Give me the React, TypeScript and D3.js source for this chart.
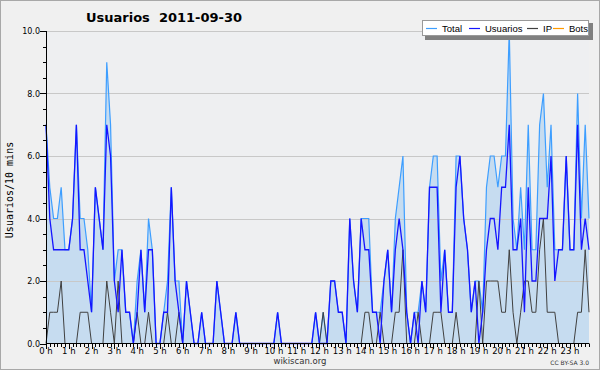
import React from "react";
import * as d3 from "d3";

const usuarios = [
  7,4,3,3,3,3, 3,4,7,3,3,2, 1,5,4,3,7,6, 2,1,3,1,1,0,
  1,3,1,3,3,0, 0,1,1,5,2,1, 0,2,1,0,0,1, 0,0,0,2,1,0,
  0,0,1,0,0,0, 0,0,0,0,0,0, 0,1,0,0,0,0, 0,0,0,0,0,1,
  0,0,0,2,2,1, 1,0,4,2,1,4, 3,3,1,1,0,2, 3,1,3,4,3,1,
  0,1,0,2,1,5, 5,5,1,3,1,1, 5,6,4,3,1,2, 0,1,3,4,4,3,
  5,5,7,3,3,4, 1,5,2,2,4,4, 4,6,2,3,3,6, 3,3,7,3,4,3,
];
const ip = [
  0,1,1,1,2,0, 0,0,0,1,1,1, 0,0,0,0,2,1, 0,2,0,0,0,0,
  1,0,0,1,0,0, 0,0,1,0,0,1, 0,0,0,0,0,0, 0,0,0,0,0,0,
  0,0,0,0,0,0, 0,0,0,0,0,0, 0,0,0,0,0,0, 0,0,0,0,0,0,
  0,1,0,0,0,0, 0,0,0,0,0,0, 1,1,0,0,1,0, 0,0,1,1,3,0,
  0,0,1,0,0,0, 1,1,1,0,0,0, 1,0,0,0,0,0, 2,0,2,2,2,2,
  1,1,3,1,0,1, 2,2,1,1,3,4, 1,1,1,0,0,0, 0,0,1,1,3,1,
];
const total = [
  7,5,4,4,5,3, 3,4,7,4,4,3, 1,5,4,3,9,7, 2,3,3,1,1,0,
  2,3,1,4,3,0, 0,1,2,5,2,2, 0,2,1,0,0,1, 0,0,0,2,1,0,
  0,0,1,0,0,0, 0,0,0,0,0,0, 0,1,0,0,0,0, 0,0,0,0,0,1,
  0,1,0,2,2,1, 1,0,4,2,1,4, 4,4,1,1,1,2, 3,1,4,5,6,1,
  0,1,1,2,1,5, 6,6,2,3,1,1, 6,6,4,3,1,2, 2,1,5,6,6,5,
  6,6,10,4,3,5, 3,7,3,3,7,8, 5,7,3,3,3,6, 3,3,8,4,7,4,
];
const bots = new Array(144).fill(0);
const hours = d3.range(24).map((h) => `${h} h`);
const yTicks = [0, 2, 4, 6, 8, 10];

const legendItems = [
  { label: "Total", color: "#3d9eff" },
  { label: "Usuarios", color: "#1515ff" },
  { label: "IP", color: "#404040" },
  { label: "Bots", color: "#ff9a00" },
];

export default function App() {
  const W = 600, H = 370;
  const x = d3.scaleLinear().domain([0, 143]).range([46, 589]);
  const y = d3.scaleLinear().domain([0, 10]).range([343.5, 31]);
  const idx = d3.range(144);
  const area = d3.area<number>().x((i) => x(i)).y0(y(0)).y1((i) => y(total[i]));
  const line = (arr: number[]) => d3.line<number>().x((i) => x(i)).y((i) => y(arr[i]))(idx) || "";
  const minor = d3.range(0, 10.01, 0.5);

  const legX = 422, legY = 20;
  const offsets = [4, 47, 105, 131];
  return (
    <svg width={W} height={H} style={{ display: "block", position: "absolute", left: 0, top: 0 }}
      xmlns="http://www.w3.org/2000/svg">
      <rect x={0} y={0} width={W} height={H} fill="#f0f0f0" />
      <rect x={0.5} y={0.5} width={W - 1} height={H - 1} fill="none" stroke="#a8a8a8" strokeWidth={1} />
      <rect x={46} y={31} width={543} height={312.5} fill="#eeeff1" />
      <path d={area(idx) || ""} fill="#c6dcf0" />
      {yTicks.slice(1).map((t) => (
        <line key={t} x1={46} x2={589} y1={Math.round(y(t)) + 0.5} y2={Math.round(y(t)) + 0.5} stroke="#c8c8c8" strokeWidth={1} />
      ))}
      <path d={line(bots)} fill="none" stroke="#ff9a00" strokeWidth={1} />
      <path d={line(total)} fill="none" stroke="#3d9eff" strokeWidth={1.2} />
      <path d={line(ip)} fill="none" stroke="#404040" strokeWidth={1} />
      <path d={line(usuarios)} fill="none" stroke="#1515ff" strokeWidth={1.3} />
      <line x1={46.5} x2={46.5} y1={31} y2={344} stroke="#000" />
      <line x1={46} x2={589} y1={343.5} y2={343.5} stroke="#000" />
      {minor.map((t) => {
        const major = Math.abs(t % 2) < 1e-6;
        return <line key={t} x1={major ? 40 : 43} x2={46} y1={Math.round(y(t)) + 0.5} y2={Math.round(y(t)) + 0.5} stroke="#000" />;
      })}
      {yTicks.map((t) => (
        <text key={t} x={40} y={y(t) + 3} textAnchor="end" fontFamily="DejaVu Sans" fontSize={8} fill="#000">
          {t.toFixed(1)}
        </text>
      ))}
      {idx.map((i) => (
        <line key={i} x1={Math.round(x(i)) + 0.5} x2={Math.round(x(i)) + 0.5} y1={343.5} y2={i % 6 === 0 ? 349 : 347} stroke="#000" />
      ))}
      {hours.map((h, k) => (
        <text key={h} x={x(k * 6)} y={354} textAnchor="middle" fontFamily="DejaVu Sans" fontSize={8.5} fill="#000">
          {h}
        </text>
      ))}
      <text x={300} y={364} textAnchor="middle" fontFamily="DejaVu Sans" fontSize={8.5} fill="#333">wikiscan.org</text>
      <text x={589} y={365} textAnchor="end" fontFamily="DejaVu Sans" fontSize={6} fill="#333">CC BY-SA 3.0</text>
      <text transform="translate(13,190) rotate(-90)" textAnchor="middle" fontFamily="DejaVu Sans Mono" fontSize={10} fill="#000">
        Usuarios/10 mins
      </text>
      <text x={86} y={22} fontFamily="DejaVu Sans" fontWeight="bold" fontSize={13} fill="#000" style={{ whiteSpace: "pre" }}>
        {"Usuarios  2011-09-30"}
      </text>
      <rect x={legX + 3} y={legY + 3} width={168} height={17} fill="#808080" />
      <rect x={legX + 0.5} y={legY + 0.5} width={166} height={15} fill="#fff" stroke="#999" />
      {legendItems.map((it, k) => (
        <g key={it.label} transform={`translate(${legX + offsets[k]},${legY + 8})`}>
          <line x1={0} x2={11} y1={0.5} y2={0.5} stroke={it.color} strokeWidth={1.2} />
          <text x={16} y={4} fontFamily="Liberation Sans, Arial, sans-serif" fontSize={9.5} fill="#000">{it.label}</text>
        </g>
      ))}
    </svg>
  );
}
